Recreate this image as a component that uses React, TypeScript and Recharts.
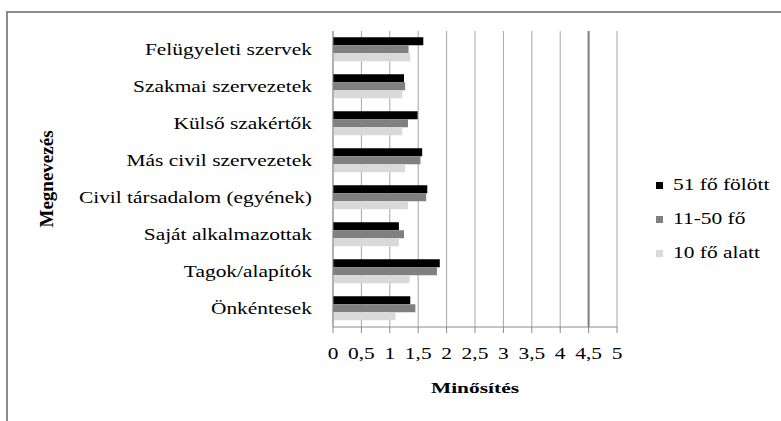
import { BarChart, Bar, XAxis, YAxis, CartesianGrid, Label, ReferenceLine } from "recharts";

const categories = [
    "Felügyeleti szervek",
    "Szakmai szervezetek",
    "Külső szakértők",
    "Más civil szervezetek",
    "Civil társadalom (egyének)",
    "Saját alkalmazottak",
    "Tagok/alapítók",
    "Önkéntesek",
];
const over51 = [1.59, 1.25, 1.49, 1.57, 1.66, 1.16, 1.88, 1.36];
const from11to50 = [1.33, 1.27, 1.32, 1.54, 1.64, 1.25, 1.83, 1.45];
const under10 = [1.36, 1.22, 1.22, 1.27, 1.32, 1.16, 1.35, 1.1];
const xTicks = [0, 0.5, 1, 1.5, 2, 2.5, 3, 3.5, 4, 4.5, 5];
const seriesNames = ["51 fő fölött", "11-50 fő", "10 fő alatt"];
const colors = ["#000000", "#808080", "#d9d9d9"];

const serif = "'Times New Roman', Tinos, 'Liberation Serif', 'DejaVu Serif', 'Noto Serif', serif";
// the source picture is stretched sideways, so horizontal text gets widened
const stretch = 1.26;

const dataChart = categories.map((name, i) => ({
    name,
    [seriesNames[0]]: over51[i],
    [seriesNames[1]]: from11to50[i],
    [seriesNames[2]]: under10[i],
}));

const CatTick = ({ x, y, payload }: any) => (
    <text transform={`translate(${x},${y}) scale(${stretch},1)`} textAnchor="end" dominantBaseline="central"
        style={{ fontFamily: serif }} fontSize={17} fill="#000">
        {payload.value}
    </text>
);

const NumTick = ({ x, y, payload }: any) => (
    <text transform={`translate(${x},${y}) scale(${stretch},1)`} textAnchor="middle" dy="0.72em"
        style={{ fontFamily: serif }} fontSize={17} fill="#000">
        {String(payload.value).replace(".", ",")}
    </text>
);

export default function App() {
    return (
        <div style={{ position: "absolute", left: 0, top: 0, width: 781, height: 421, overflow: "hidden", background: "#fff", fontFamily: serif }}>
            <div style={{ position: "absolute", left: 6, top: 11, width: 800, height: 430, border: "2px solid #8c8c8c" }} />
            <BarChart width={781} height={421} layout="vertical" data={dataChart}
                margin={{ top: 31, right: 164, bottom: 0, left: 0 }}
                barCategoryGap="17%" barGap={0} style={{ position: "absolute", left: 0, top: 0 }}>
                <CartesianGrid horizontal={false} stroke="#a6a6a6" />
                <ReferenceLine x={4.5} stroke="#7f7f7f" strokeWidth={2} />
                <XAxis type="number" domain={[0, 5]} ticks={xTicks} interval={0} height={94}
                    axisLine={{ stroke: "#8c8c8c" }} tickLine={{ stroke: "#8c8c8c" }} tickSize={6} tickMargin={14}
                    tick={<NumTick />}>
                    <Label position="insideTop" offset={58}
                        content={({ viewBox }: any) => (
                            <text transform={`translate(${viewBox.x + viewBox.width / 2},${viewBox.y + 66}) scale(1.43,1)`}
                                textAnchor="middle" style={{ fontFamily: serif }} fontSize={15} fontWeight="bold" fill="#000">
                                Minősítés
                            </text>
                        )} />
                </XAxis>
                <YAxis type="category" dataKey="name" width={333} interval={0}
                    axisLine={{ stroke: "#8c8c8c" }} tickLine={false} tickSize={0} tickMargin={21}
                    tick={<CatTick />}>
                    <Label position="insideLeft"
                        content={({ viewBox }: any) => (
                            <text transform={`translate(53,${viewBox.y + viewBox.height / 2}) rotate(-90)`}
                                textAnchor="middle" style={{ fontFamily: serif }} fontSize={19} fontWeight="bold" fill="#000">
                                Megnevezés
                            </text>
                        )} />
                </YAxis>
                {seriesNames.map((s, i) => (
                    <Bar key={s} dataKey={s} fill={colors[i]} isAnimationActive={false} />
                ))}
            </BarChart>
            <div style={{ position: "absolute", left: 656, top: 168 }}>
                {seriesNames.map((s, i) => (
                    <div key={s} style={{ display: "flex", alignItems: "center", height: 34 }}>
                        <span style={{ width: 7, height: 7, background: colors[i], marginRight: 10 }} />
                        <span style={{ fontFamily: serif, fontSize: 17, display: "inline-block", whiteSpace: "nowrap",
                            transform: `scaleX(${stretch})`, transformOrigin: "left center" }}>{s}</span>
                    </div>
                ))}
            </div>
        </div>
    );
}
